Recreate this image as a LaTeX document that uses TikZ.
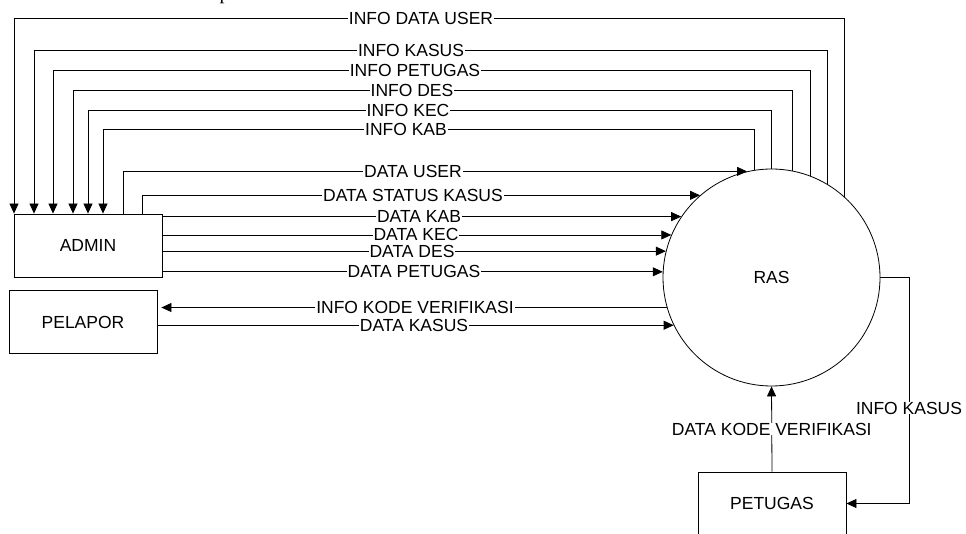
\documentclass[tikz,border=0pt]{standalone}
\usepackage{fontspec}
\setmainfont{Liberation Sans}
\newfontfamily\capfont{Liberation Serif}
\usetikzlibrary{arrows.meta, positioning}

\begin{document}
\begin{tikzpicture}[
    x=1pt, y=-1pt,
    box/.style={rectangle, draw, minimum height=63pt, minimum width=148pt, line width=0.8pt, font=\fontsize{17.5}{20}\selectfont},
    proc/.style={circle, draw, minimum size=217pt, inner sep=0pt, line width=0.8pt, font=\fontsize{17.5}{20}\selectfont},
    arrow/.style={-{Triangle[length=10pt, width=9pt]}, line width=0.8pt},
    lbl/.style={fill=white, inner xsep=1pt, inner ysep=0pt, font=\fontsize{17.5}{20}\selectfont}
]
\useasboundingbox (0,0) rectangle (966,534);

% Nodes
\node[box] (admin) at (88,245.5) {ADMIN};
\node[box] (pelapor) at (83,322) {PELAPOR};
\node[proc] (ras) at (771.5,277.5) {RAS};
\node[box] (petugas) at (772,503.5) {PETUGAS};
\node[anchor=base west, inner sep=0pt, font=\capfont\fontsize{20}{22}\selectfont] (cap) at (219.5,-0.3) {p};

% Connections (RAS to ADMIN)
\foreach \ang/\lx/\ly/\tx/\txt in {48.8/14/18.7/421/INFO DATA USER, 59.2/34/50.7/411/INFO KASUS,
    69.8/53/70/415/INFO PETUGAS, 79.6/73/90/412/INFO DES, 90/88/110/408/INFO KEC, 99.8/103/129/406/INFO KAB}
    \draw[arrow] (ras.\ang) |- (\lx,\ly) node[lbl] at (\tx,\ly) {\txt} -- (\lx,0 |- admin.north);

% Connections (ADMIN to RAS)
\draw[arrow] (admin.north -| 123,0) |- (ras.103.5) node[lbl] at (ras.103.5 -| 413,0) {DATA USER};
\draw[arrow] (admin.north -| 142,0) |- (ras.131.3) node[lbl] at (ras.131.3 -| 413,0) {DATA STATUS KASUS};
\foreach \ang/\tx/\txt in {146.8/419/DATA KAB, 157.3/416/DATA KEC, 166.6/412/DATA DES, 177.3/414/DATA PETUGAS}
    \draw[arrow] (ras.\ang -| admin.east) -- (ras.\ang) node[lbl] at (ras.\ang -| \tx,0) {\txt};

% Connections (PELAPOR)
\draw[arrow, shorten >=4pt] (ras.196) -- (ras.196 -| pelapor.east) node[lbl] at (ras.196 -| 415,0) {INFO KODE VERIFIKASI};
\draw[arrow] (ras.206.9 -| pelapor.east) -- (ras.206.9) node[lbl] at (ras.206.9 -| 414,0) {DATA KASUS};

% Connections (PETUGAS)
\draw[arrow] (petugas.north) -- node[lbl] {DATA KODE VERIFIKASI} (ras.south);
\draw[arrow] (ras.east) -- ++(29,0) |- (petugas.east) node[lbl] at (909,408) {INFO KASUS};

\end{tikzpicture}
\end{document}
